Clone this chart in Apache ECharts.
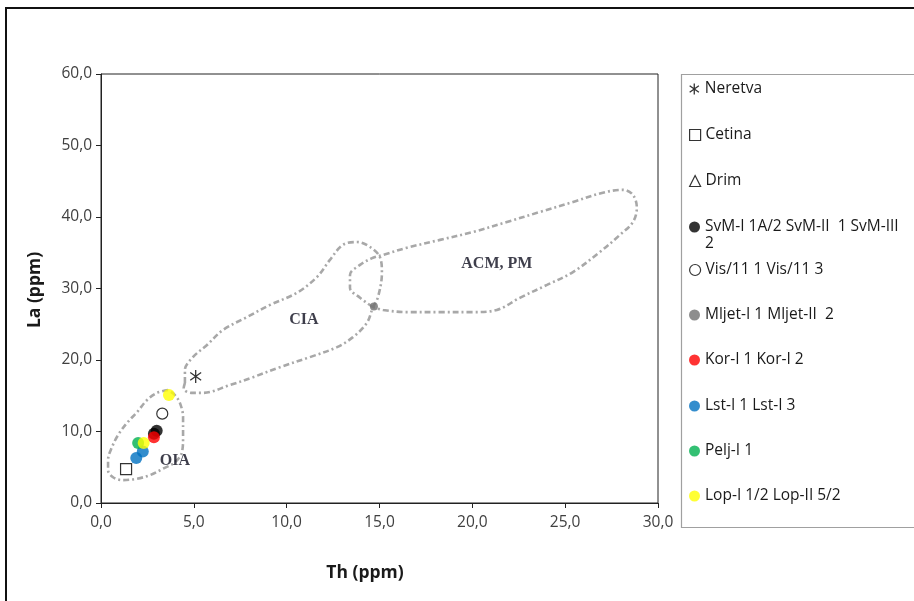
<!DOCTYPE html>
<html>
<head>
<meta charset="utf-8">
<script src="https://cdn.jsdelivr.net/npm/echarts@6/dist/echarts.min.js"></script>
<style>
html,body{margin:0;padding:0;background:#fff;}
#c{width:914px;height:601px;}
</style>
</head>
<body>
<div id="c"></div>
<script>
// ---------- data ----------
const xTicks = [0, 5, 10, 15, 20, 25, 30];
const yTicks = [0, 10, 20, 30, 40, 50, 60];

const seriesNames = [
  'Neretva', 'Cetina', 'Drim',
  'SvM-I 1A/2 SvM-II  1 SvM-III 2',
  'Vis/11 1 Vis/11 3',
  'Mljet-I 1 Mljet-II  2',
  'Kor-I 1 Kor-I 2',
  'Lst-I 1 Lst-I 3',
  'Pelj-I 1',
  'Lop-I 1/2 Lop-II 5/2'
];

// [Th, La] pairs (ppm)
const neretva = [[5.1, 17.7]];
const cetina  = [[1.35, 4.75]];
const drim    = [];
const svm     = [[2.85, 9.7], [3.0, 10.1]];
const vis     = [[3.3, 12.5]];
const mljet   = [[14.7, 27.5]];
const kor     = [[2.85, 9.2]];
const lst     = [[1.9, 6.3], [2.25, 7.2]];
const pelj    = [[2.0, 8.4]];
const lop     = [[2.3, 8.4], [3.66, 15.1]];

// tectonic-setting field outlines [Th, La]
const fieldOIA = [
  [3.61,15.8],[3.02,15.4],[2.48,14.4],[1.94,12.7],[1.40,11.2],[0.92,9.5],[0.59,7.8],
  [0.38,6.0],[0.38,4.6],[0.65,3.6],[1.18,3.2],[1.94,3.4],[2.64,3.9],[3.34,4.8],
  [3.98,5.7],[4.36,7.1],[4.42,9.2],[4.42,12.0],[4.25,14.0],[3.98,15.1],[3.61,15.8]
];
const fieldCIA = [
  [4.52,16.8],[4.52,18.6],[4.95,20.4],[5.71,22.1],[6.57,24.2],[7.86,26.0],[9.10,27.7],
  [10.55,29.4],[11.63,31.6],[12.33,34.0],[13.03,36.1],[13.79,36.5],[14.49,35.8],
  [15.02,34.4],[15.13,32.2],[14.92,28.8],[14.65,27.4],[14.32,25.2],[13.57,23.2],
  [12.71,21.8],[11.25,20.4],[9.64,19.0],[8.19,17.6],[6.95,16.5],[5.49,15.4],
  [4.85,15.4],[4.45,16.0],[4.52,16.8]
];
const fieldACM = [
  [14.65,27.4],[13.95,28.7],[13.41,30.1],[13.41,31.9],[13.95,33.3],[14.65,34.3],
  [15.19,34.7],[16.48,35.7],[18.26,36.8],[20.03,37.9],[21.86,39.3],[23.64,40.7],
  [25.42,42.1],[27.03,43.4],[28.11,43.8],[28.65,43.1],[28.86,41.3],[28.65,39.3],
  [27.95,37.5],[26.87,35.1],[25.42,32.3],[24.02,30.5],[22.56,28.7],[21.32,27.0],
  [20.03,26.7],[18.26,26.7],[16.48,26.7],[15.19,27.0],[14.65,27.4]
];
const fieldNames = ['OIA', 'CIA', 'ACM, PM'];
const fieldLabelAt = [[3.98, 5.9], [10.93, 25.6], [21.32, 33.4]];

// ---------- chart ----------
const fmt = v => v.toFixed(1).replace('.', ',');
const AX = '#404040';
const FONT = '"Open Sans", sans-serif';
const chart = echarts.init(document.getElementById('c'), null, {renderer: 'canvas'});

const fieldLine = (name, data) => ({
  name: name, type: 'line', data: data, smooth: 0.35, symbol: 'none',
  silent: true, z: 1,
  lineStyle: {color: '#a8a8a8', width: 2.6, type: [6, 3, 2, 3]}
});

const starPath = 'path://M5,0L5,10M0.8,2L9.2,8M9.2,2L0.8,8';
const pointDefs = [
  {data: neretva, symbol: starPath, size: 13, style: {color: 'rgba(0,0,0,0)', borderColor: '#000', borderWidth: 1.3}},
  {data: cetina, symbol: 'rect', size: 11, style: {color: '#fff', borderColor: '#000', borderWidth: 1.2}},
  {data: drim, symbol: 'triangle', size: 11, style: {color: '#fff', borderColor: '#000', borderWidth: 1.2}},
  {data: svm, symbol: 'circle', size: 12, style: {color: '#000'}},
  {data: vis, symbol: 'circle', size: 11, style: {color: '#fff', borderColor: '#000', borderWidth: 1.2}},
  {data: mljet, symbol: 'circle', size: 8, style: {color: '#707070'}},
  {data: kor, symbol: 'circle', size: 12, style: {color: '#ff0000'}},
  {data: lst, symbol: 'circle', size: 12, style: {color: '#0070c0'}},
  {data: pelj, symbol: 'circle', size: 12, style: {color: '#00b050'}},
  {data: lop, symbol: 'circle', size: 12, style: {color: '#ffff00'}}
];

const series = [
  fieldLine('fOIA', fieldOIA),
  fieldLine('fCIA', fieldCIA),
  fieldLine('fACM', fieldACM),
  {
    name: 'fieldLabels', type: 'scatter', symbolSize: 0, silent: true, z: 2,
    data: fieldNames.map((n, i) => ({name: n, value: fieldLabelAt[i]})),
    label: {show: true, position: 'inside', formatter: '{b}',
      fontFamily: '"Liberation Serif", serif', fontWeight: 'bold', fontSize: 16, color: '#0e0e1e'}
  }
];
pointDefs.forEach((d, i) => {
  series.push({
    name: seriesNames[i], type: 'scatter', data: d.data, symbol: d.symbol,
    symbolSize: d.size, symbolKeepAspect: true, itemStyle: d.style, z: 3 + i
  });
});

const legendCenters = [87, 133, 179, 225, 268, 313, 358, 404, 449, 494];
const legends = seriesNames.map((n, i) => ({
  data: [{name: n, icon: pointDefs[i].symbol, itemStyle: pointDefs[i].style}],
  left: 689, top: legendCenters[i] - 8, padding: 0,
  itemWidth: 11, itemHeight: 11, itemGap: 0,
  selectedMode: false,
  formatter: name => (name.indexOf('SvM') === 0 ? 'SvM-I 1A/2 SvM-II  1 SvM-III' : name),
  textStyle: {fontFamily: FONT, fontSize: 15.5, color: '#1a1a1a', lineHeight: 20}
}));

chart.setOption({
  animation: false,
  backgroundColor: '#fff',
  grid: {left: 101, right: 256, top: 74, bottom: 98, show: true, borderColor: '#222', borderWidth: 1, backgroundColor: 'transparent'},
  xAxis: {
    type: 'value', min: xTicks[0], max: xTicks[xTicks.length - 1], interval: 5,
    axisLine: {show: true, lineStyle: {color: '#222', width: 1}},
    axisTick: {show: true, inside: false, length: 5, lineStyle: {color: '#222'}},
    splitLine: {show: false},
    axisLabel: {formatter: fmt, color: AX, fontFamily: FONT, fontSize: 15.5, margin: 12}
  },
  yAxis: {
    type: 'value', min: yTicks[0], max: yTicks[yTicks.length - 1], interval: 10,
    axisLine: {show: true, lineStyle: {color: '#222', width: 1}},
    axisTick: {show: true, inside: false, length: 5, lineStyle: {color: '#222'}},
    splitLine: {show: false},
    axisLabel: {formatter: fmt, color: AX, fontFamily: FONT, fontSize: 15.5, margin: 9}
  },
  legend: legends,
  graphic: [
    {type: 'rect', shape: {x: 6, y: 8, width: 1200, height: 1200}, style: {fill: 'none', stroke: '#111', lineWidth: 2}, silent: true, z: -10},
    {type: 'rect', shape: {x: 681.5, y: 74.5, width: 600, height: 453}, style: {fill: 'none', stroke: '#a0a0a0', lineWidth: 1.2}, silent: true, z: -5},
    {type: 'text', left: 705, top: 236, style: {text: '2', fontFamily: FONT, fontSize: 15.5, fill: '#1a1a1a'}, silent: true},
    {type: 'text', x: 365, y: 573, style: {text: 'Th (ppm)', fontFamily: FONT, fontWeight: 'bold', fontSize: 17.5, fill: '#1a1a1a', textAlign: 'center', textVerticalAlign: 'middle'}, silent: true},
    {type: 'text', x: 35, y: 290, rotation: Math.PI / 2, style: {text: 'La (ppm)', fontFamily: FONT, fontWeight: 'bold', fontSize: 17.5, fill: '#1a1a1a', textAlign: 'center', textVerticalAlign: 'middle'}, silent: true}
  ],
  series: series
});
</script>
</body>
</html>
